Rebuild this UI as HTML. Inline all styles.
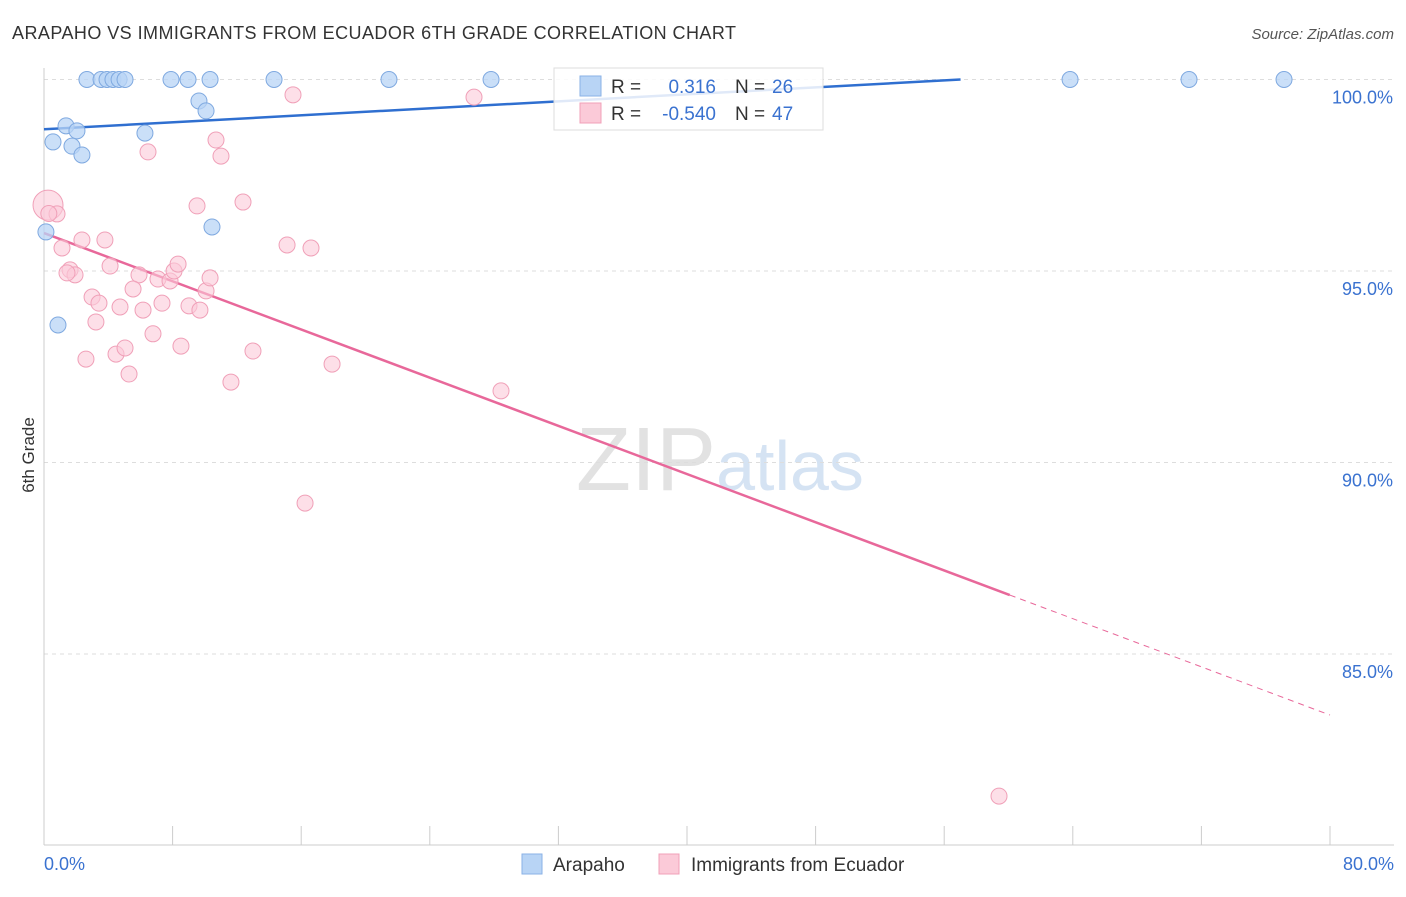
<!DOCTYPE html>
<html><head><meta charset="utf-8">
<style>
body{margin:0;background:#fff;font-family:"Liberation Sans",sans-serif;}
svg text{font-family:"Liberation Sans",sans-serif;}
</style></head>
<body>
<svg id="chart" width="1406" height="892" xmlns="http://www.w3.org/2000/svg">
<text x="12" y="39" font-size="18" fill="#333" textLength="724" lengthAdjust="spacing">ARAPAHO VS IMMIGRANTS FROM ECUADOR 6TH GRADE CORRELATION CHART</text>
<text x="1394" y="39" font-size="15" fill="#555" font-style="italic" text-anchor="end">Source: ZipAtlas.com</text>
<text x="34" y="455" font-size="17" fill="#333" transform="rotate(-90 34 455)" text-anchor="middle">6th Grade</text>
<text x="720" y="490" font-size="90" fill="#ddd" text-anchor="middle" font-family="Liberation Serif"><tspan fill="#e2e2e2">ZIP</tspan><tspan fill="#d5e3f3" font-family="Liberation Sans" font-size="70">atlas</tspan></text>
<g id="grid"></g><g id="axes"></g><g id="lines"></g><g id="pts"></g>
<g>
<rect x="554" y="68" width="269" height="62" fill="#fff" fill-opacity="0.85" stroke="#ddd"/>
<rect x="580" y="76" width="21" height="20" fill="#b8d4f5" stroke="#8ab2e6"/>
<rect x="580" y="103" width="21" height="20" fill="#fbcad8" stroke="#f0a0b8"/>
<text x="611" y="93" font-size="19" fill="#333">R = </text><text x="716" y="93" font-size="19" fill="#3a72d0" text-anchor="end">0.316</text>
<text x="735" y="93" font-size="19" fill="#333">N = </text><text x="772" y="93" font-size="19" fill="#3a72d0">26</text>
<text x="611" y="120" font-size="19" fill="#333">R = </text><text x="716" y="120" font-size="19" fill="#3a72d0" text-anchor="end">-0.540</text>
<text x="735" y="120" font-size="19" fill="#333">N = </text><text x="772" y="120" font-size="19" fill="#3a72d0">47</text>
</g>
<g>
<rect x="522" y="854" width="20" height="20" fill="#b8d4f5" stroke="#8ab2e6"/>
<text x="553" y="871" font-size="19" fill="#333">Arapaho</text>
<rect x="659" y="854" width="20" height="20" fill="#fbcad8" stroke="#f0a0b8"/>
<text x="691" y="871" font-size="19" fill="#333">Immigrants from Ecuador</text>
</g>
</svg>
<script>
const xTicks=[0,8,16,24,32,40,48,56,64,72,80];
const yTicks=[100,95,90,85];
const yTickLabels=["100.0%","95.0%","90.0%","85.0%"];
const xTickLabels=["0.0%","80.0%"];
const blueX=[2.67,3.55,3.92,4.29,4.67,5.04,7.90,8.96,10.33,14.31,21.46,27.81,63.83,71.23,77.14,9.64,10.08,0.56,1.37,2.05,1.74,2.36,6.28,10.45,0.12,0.87];
const blueY=[100,100,100,100,100,100,100,100,100,100,100,100,100,100,100,99.44,99.18,98.37,98.79,98.66,98.26,98.03,98.60,96.15,96.02,93.59];
const pinkX=[0.25,0.81,1.12,2.36,3.79,1.62,1.93,1.43,4.11,2.99,3.42,3.23,5.91,5.54,4.73,6.16,7.34,7.09,7.84,8.09,8.34,9.02,9.70,10.08,10.33,2.61,4.48,5.04,5.29,6.78,8.52,11.63,13.00,17.92,28.43,16.24,59.41,15.49,26.75,6.47,10.70,11.01,9.52,12.38,15.12,16.61,0.3];
const pinkY=[96.72,96.49,95.60,95.81,95.81,95.03,94.90,94.95,95.13,94.32,94.16,93.67,94.90,94.53,94.06,93.98,94.16,94.79,94.74,95.00,95.18,94.09,93.98,94.48,94.82,92.70,92.83,92.99,92.31,93.36,93.04,92.10,92.91,92.57,91.87,88.94,81.29,99.60,99.54,98.11,98.42,98.00,96.70,96.80,95.68,95.60,96.5];
const blueTrend=[98.70,0.0228];
const pinkTrend=[95.99,-0.1573];
const NS="http://www.w3.org/2000/svg";
const X=v=>44+v/80*1286;
const Y=v=>79.5+(100-v)*38.3;
function mk(p,t,a){const e=document.createElementNS(NS,t);for(const k in a)e.setAttribute(k,a[k]);document.getElementById(p).appendChild(e);return e;}
yTicks.forEach((t,i)=>{
 const l=mk('grid','line',{x1:44,x2:1394,y1:Y(t),y2:Y(t),stroke:'#ddd','stroke-dasharray':'4,4'});
 
 
 const tx=mk('grid','text',{x:1393,y:Y(t)+24,'font-size':18,fill:'#3a72d0','text-anchor':'end'});
 tx.textContent=yTickLabels[i];
 
 
});
const ax=mk('axes','line',{x1:44,x2:1394,y1:845,y2:845,stroke:'#ccc'});


const ay=mk('axes','line',{x1:44,x2:44,y1:68,y2:845,stroke:'#ccc'});


xTicks.forEach(t=>{
 const l=mk('axes','line',{x1:X(t),x2:X(t),y1:826,y2:845,stroke:'#ccc'});
 
 
});
[[0,'start',44],[80,'end',1394]].forEach(([v,a,px],i)=>{
 const t=mk('axes','text',{x:px,y:870,'font-size':18,fill:'#3a72d0','text-anchor':a});
 t.textContent=xTickLabels[i];
 
 
});
const bEnd=(100-blueTrend[0])/blueTrend[1];
const bl=mk('lines','line',{x1:X(0),y1:Y(blueTrend[0]),x2:X(bEnd),y2:Y(100),stroke:'#2f6fd0','stroke-width':2.5});


const pf=x=>pinkTrend[0]+pinkTrend[1]*x;
const pl=mk('lines','line',{x1:X(0),y1:Y(pf(0)),x2:X(60.08),y2:Y(pf(60.08)),stroke:'#e8689a','stroke-width':2.5});


const pd=mk('lines','line',{x1:X(60.08),y1:Y(pf(60.08)),x2:X(80),y2:Y(pf(80)),stroke:'#e8689a','stroke-width':1,'stroke-dasharray':'6,5'});


blueX.forEach((x,i)=>{
 const c=mk('pts','circle',{cx:X(x),cy:Y(blueY[i]),r:8,fill:'#b8d4f5','fill-opacity':0.75,stroke:'#7fa9e0','stroke-width':1});
 
 
});
pinkX.forEach((x,i)=>{
 const c=mk('pts','circle',{cx:X(x),cy:Y(pinkY[i]),r:i==0?15:8,fill:'#fbcad8','fill-opacity':0.6,stroke:'#f0a0b8','stroke-width':1});
 
 
});
</script>
</body></html>
